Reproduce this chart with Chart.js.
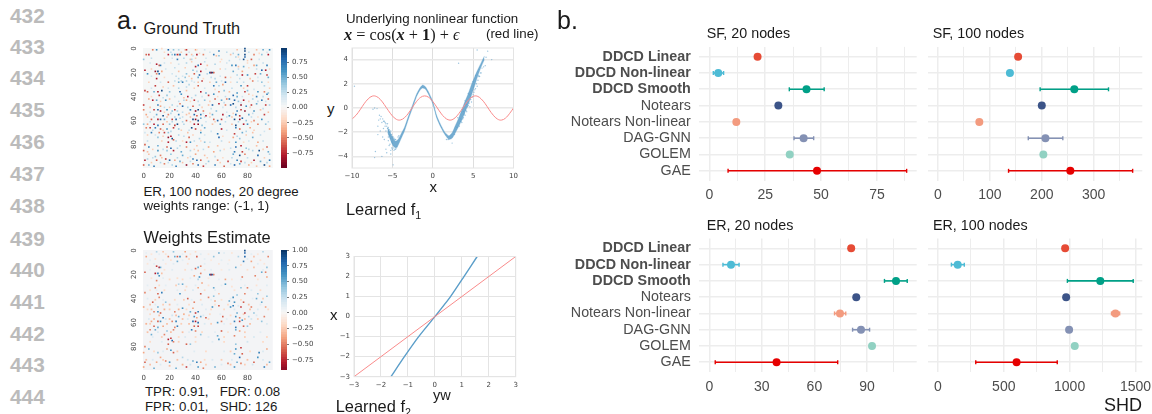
<!DOCTYPE html>
<html><head><meta charset="utf-8">
<script src="https://cdn.jsdelivr.net/npm/chart.js@4"></script>
<style>
html,body{margin:0;padding:0;background:#fff;width:1152px;height:414px;overflow:hidden}
#stage{position:relative;width:1152px;height:414px;filter:blur(0.4px);background:#fff}
canvas{position:absolute}
.t{position:absolute;white-space:pre;line-height:normal;color:#1a1a1a;font-family:"Liberation Sans",sans-serif}
.n{color:#bbb;font-weight:bold}
sub{font-size:65%;line-height:0}
</style></head><body><div id="stage"></div>
<script>
// ---------- panel b data ----------
const methods=["DDCD Linear","DDCD Non-linear","DDCD Smooth","Notears","Notears Non-linear","DAG-GNN","GOLEM","GAE"];
const methodColors=["#E64B35","#4DBBD5","#00A087","#3C5488","#F39B7F","#8491B4","#91D1C2","#E60000"];
const sf20Mean=[21.6,4,43.5,30.9,12.1,42.2,36,48.2];
const sf20Low=[null,1.8,35.8,null,null,37.9,null,8.4];
const sf20High=[null,6.4,51.4,null,null,46.7,null,88.3];
const sf100Mean=[154.4,138.6,262.6,200,79.7,207,203,255];
const sf100Low=[null,null,196.8,null,null,174,null,136];
const sf100High=[null,null,328.5,null,null,240.5,null,375];
const er20Mean=[81,12.4,106.6,83.9,74.6,86.6,92.9,38.4];
const er20Low=[null,7.8,100,null,71.5,81.8,null,3.4];
const er20High=[null,17,113,null,77.9,91.5,null,73.3];
const er100Mean=[966,150,1233,973.6,1348,996,1039,597];
const er100Low=[null,102,983,null,1318,null,null,287];
const er100High=[null,200,1483,null,1380,null,null,906];
const sf20Ticks=[0,25,50,75];
const sf100Ticks=[0,100,200,300];
const er20Ticks=[0,30,60,90];
const er100Ticks=[0,500,1000,1500];
const sf20Minor=[12.5,37.5,62.5,87.5];
const sf100Minor=[50,150,250,350];
const er20Minor=[15,45,75,105];
const er100Minor=[250,750,1250];

// ---------- panel a, curves ----------
const redCurveX=[-10,-9.5,-9,-8.5,-8,-7.5,-7,-6.5,-6,-5.5,-5,-4.5,-4,-3.5,-3,-2.5,-2,-1.5,-1,-0.5,0,0.5,1,1.5,2,2.5,3,3.5,4,4.5,5,5.5,6,6.5,7,7.5,8,8.5,9,9.5,10];
const redCurveY=[-0.91,-0.6,-0.15,0.35,0.75,0.98,0.96,0.71,0.28,-0.21,-0.65,-0.94,-0.99,-0.8,-0.42,0.07,0.54,0.88,1,0.88,0.54,0.07,-0.42,-0.8,-0.99,-0.94,-0.65,-0.21,0.28,0.71,0.96,0.98,0.75,0.35,-0.15,-0.6,-0.91,-1,-0.84,-0.47,0];
const bandX=[-5.6,-5.2,-4.9,-4.6,-4.3,-4,-3.5,-3,-2.5,-2,-1.6,-1.25,-0.9,-0.5,0,0.5,1,1.5,2,2.4,2.8,3.2,3.6,4,4.4,4.8,5.2,5.6,6,6.4];
const bandLow=[-2,-2.7,-3.15,-3.3,-3.1,-2.65,-1.9,-0.9,0,0.95,1.45,1.65,1.55,1.1,0.35,-0.85,-1.6,-2.2,-2.6,-2.5,-2.05,-1.55,-1,-0.35,0.3,1.05,1.85,2.7,3.4,4];
const bandHigh=[-1.6,-2.1,-2.5,-2.75,-2.6,-2.25,-1.6,-0.65,0.25,1.15,1.65,1.9,1.75,1.3,0.55,-0.65,-1.4,-2,-2.3,-2.05,-1.45,-0.85,-0.15,0.55,1.2,1.95,2.6,3.2,3.75,4.3];
const cloudX=[-9.7,-7.4,-7.2,-7.1,-6.9,-6.8,-6.7,-6.6,-6.5,-6.4,-6.3,-6.3,-6.2,-6.1,-6.1,-6,-6,-5.9,-5.9,-5.8,-5.8,-5.7,-5.7,-5.6,-5.6,-5.5,-5.5,-5.5,-5.4,-5.4,-5.4,-5.3,-5.3,-5.3,-5.2,-5.2,-5.2,-5.1,-5.1,-5.1,-5,-5,-5,-4.9,-4.9,-4.8,-4.8,-4.7,-4.7,-4.6,-4.6,-4.5,-4.4,-4.3,-4.2,-4.9,-5.5,-6.2,-6.5,-6.8,-7.2,-5.8,-5.2,3,3.1,3.3,3.4,3.5,3.6,3.7,3.8,3.8,3.9,4,4,4.1,4.2,4.2,4.3,4.4,4.4,4.5,4.6,4.6,4.7,4.8,4.9,5,5,5.1,5.2,5.3,5.3,5.4,5.5,5.6,5.7,5.8,5.9,6,6.1,6.3,6.5,6.6,6.8,7.3,5.5,5.7,3.2,2.7,2.4,1.7,1.9];
const cloudY=[1.8,-0.1,0,-3.6,-0.05,-2.2,-1,-0.6,-0.9,-0.7,-1.2,-4,-0.9,-1.1,-1.7,-1.1,-2.6,-1.5,-1.2,-1.3,-1.9,-1.5,-3.7,-1.7,-1.3,-1.9,-1.6,-2.4,-1.8,-2.2,-3.1,-2,-2.3,-3,-1.9,-2.5,-3.5,-2.2,-2.8,-3.3,-2.4,-2.9,-3.4,-2.4,-3.3,-2.5,-3.5,-2.6,-3.4,-3.4,-2.6,-3.3,-3.2,-2.4,-2.3,-4.7,-2.7,-2.4,-1.9,-1.5,-4.1,-3.4,-3.8,-1.6,-0.8,-1.5,-0.9,-1.1,-1.2,-0.9,-0.8,-0.3,-0.5,-0.6,0.6,-0.2,-0.3,0.3,0.1,0.2,1.2,0.4,0.1,1.1,0.7,0.5,0.9,1.1,2.2,1.3,1.5,1.6,2.7,2,1.8,2.3,2.6,2.6,2.9,2.9,3.3,3.4,3.5,4.2,4.7,4,4.8,2.7,3.7,-2.2,-2.9,-2.6,-2.6,-2.7];
const learnedX=[-1.63,-1.13,-0.6,0,0.58,1.08,1.57];
const learnedY=[-3,-2,-1,0,1,2,3];
const identityLine=[-3,3];
const fnXTicks=[-10,-5,0,5,10];
const fnYTicks=[-4,-2,0,2,4];
const learnedTicks=[-3,-2,-1,0,1,2,3];
const heatTicks=[0,20,40,60,80];
const cbTicksA=[-0.75,-0.5,-0.25,0,0.25,0.5,0.75];
const cbTicksB=[-0.75,-0.5,-0.25,0,0.25,0.5,0.75,1];
const rdBuStops=["#67001f","#b2182b","#d6604d","#f4a582","#fddbc7","#f7f7f7","#d1e5f0","#92c5de","#4393c3","#2166ac","#053061"];

// ---------- heatmap cells: column, row, weight ----------
const truthCells=[[7,1,-.5],[10,1,.6],[14,0,-.2],[19,1,.8],[23,1,.4],[27,1,.3],[32,1,-.3],[33,1,-.7],[40,1,-.4],[41,1,-.2],[47,1,.2],[58,2,.7],[72,1,-.3],[78,0,.9],[78,2,.9],[87,1,-.3],[92,1,.5],[97,1,.6],
[2,5,-.6],[4,5,-.7],[19,5,-.8],[22,5,.4],[24,5,.7],[26,5,-.8],[27,5,-.4],[28,5,.8],[33,5,-.7],[37,5,-.3],[38,6,.2],[41,5,-.8],[46,5,-.5],[54,5,.7],[56,6,-.3],[58,6,.4],[67,5,-.3],[73,5,.5],[78,5,.9],[78,7,.8],[85,5,-.5],[91,5,.4],[96,5,-.8],
[0,9,.4],[26,9,.7],[36,9,-.3],[37,9,.3],[74,9,.2],[77,9,.9],[83,9,-.6],[71,7,.3],[73,7,-.2],
[10,13,-.8],[12,14,-.6],[13,14,.7],[27,13,.2],[42,14,.7],[44,13,-.8],[40,15,-.8],[49,14,-.3],[55,13,.3],[68,14,.6],[71,14,.7],[73,15,-.3],[77,15,.5],[85,14,-.4],[87,14,.5],[95,14,.7],
[1,18,-.8],[9,19,-.9],[11,19,.9],[14,19,-.4],[27,19,-.3],[38,18,.4],[41,19,.3],[44,19,-.8],[51,20,.8],[52,20,-.9],[53,20,.9],[54,20,-.6],[69,19,.5],[76,19,-.4],[91,18,.8],[94,18,-.8],
[3,21,.6],[10,21,-.5],[12,21,.8],[22,21,.2],[33,21,.4],[39,21,-.6],[43,22,.8],[49,21,.3],[72,22,.3],[76,22,-.8],[80,22,.6],[86,21,-.7],[90,21,.5],[95,22,-.7],
[10,25,-.8],[27,25,.3],[32,24,.4],[37,25,-.3],[42,24,.5],[46,25,-.2],[55,25,.3],[63,24,-.6],[82,25,-.3],[96,24,.5],
[19,28,-.6],[27,28,.5],[29,27,.3],[30,28,.7],[37,27,.2],[42,28,-.3],[45,27,-.7],[56,28,.5],[63,28,.8],[72,28,.3],[84,27,-.5],[91,28,.4],
[9,31,-.7],[23,31,-.3],[35,30,.3],[42,31,-.6],[54,31,.7],[58,31,.3],[61,30,-.4],[75,31,.6],[80,31,-.7],[93,31,.3],
[1,35,-.7],[3,36,-.6],[8,36,.5],[11,36,-.8],[14,35,.9],[20,36,.4],[28,36,.8],[33,35,-.3],[44,36,-.8],[48,37,.5],[58,36,-.5],[62,35,.4],[66,36,-.3],[72,37,.6],[78,36,-.7],[80,35,.4],[88,36,.6],[93,36,-.5],[96,37,.4],
[12,39,-.7],[18,39,.4],[29,38,.6],[34,40,-.8],[40,39,.3],[50,39,-.7],[54,38,.6],[69,39,.8],[72,40,.5],[81,38,-.3],[87,40,.7],[95,38,.7],
[4,42,-.4],[7,43,-.8],[10,43,.5],[17,43,.6],[20,42,-.3],[33,43,-.4],[39,43,-.7],[47,43,.4],[55,42,-.6],[60,43,.5],[64,42,-.5],[66,42,.7],[70,43,.8],[73,44,.4],[77,43,-.8],[84,42,.3],[91,43,.7],[96,42,-.6],
[0,47,-.7],[11,47,.7],[13,48,-.4],[22,47,.3],[28,46,-.5],[30,48,.8],[38,48,-.6],[43,47,.3],[50,47,-.3],[53,47,.8],[58,46,-.8],[63,47,-.5],[67,47,.8],[69,46,.9],[75,47,-.9],[79,48,.6],[83,47,-.7],[87,46,.5],[94,47,-.7],[97,47,.3],
[0,51,-.5],[8,51,-.7],[11,51,.8],[13,52,-.8],[18,51,.6],[22,52,.4],[24,51,-.7],[26,52,.3],[36,51,.7],[40,52,-.9],[42,51,.9],[46,52,-.5],[56,52,.4],[72,52,.7],[75,51,-.7],[78,52,-.9],[85,52,.6],[90,51,-.3],
[2,55,-.4],[10,55,.5],[15,56,.9],[19,55,-.5],[27,55,.7],[33,55,-.3],[39,55,.8],[41,56,-.6],[44,55,.7],[48,56,-.8],[53,55,.5],[61,55,-.8],[66,56,.6],[71,55,.8],[74,56,-.7],[81,55,.5],[93,55,-.7],
[6,59,-.6],[11,59,-.8],[13,59,.8],[16,59,.5],[22,59,-.7],[25,59,.8],[28,58,.3],[33,60,-.6],[38,59,.9],[40,59,-.9],[42,60,.9],[44,58,.5],[54,59,-.6],[57,60,.8],[60,59,-.7],[70,59,.9],[74,59,-.9],[76,58,.8],[79,60,.4],[85,60,-.5],[91,59,.6],
[0,63,.4],[3,63,-.4],[8,63,-.8],[11,64,.7],[15,63,-.6],[20,63,.4],[24,64,-.7],[26,63,.9],[31,63,.3],[39,63,-.8],[42,63,-.9],[45,64,.4],[53,63,-.3],[59,63,.5],[68,63,-.3],[71,64,.9],[77,63,-.8],[80,63,.6],[88,63,-.5],[94,63,.4],
[2,66,-.5],[5,66,-.7],[9,66,.7],[13,67,-.6],[18,67,.6],[23,66,-.7],[27,67,.4],[37,66,.9],[40,67,-.7],[47,66,.5],[60,67,-.8],[71,66,.7],[74,67,-.6],[82,66,-.4],[97,67,-.4],
[1,70,.2],[6,70,.7],[12,70,-.5],[16,70,-.7],[19,70,.4],[34,70,-.3],[44,70,.6],[57,71,.7],[70,71,-.7],[76,70,.5],[84,70,-.3],
[19,74,-.9],[21,73,-.8],[23,76,-.6],[22,75,.9],[11,74,.4],[35,74,-.6],[43,75,.3],[58,74,.8],[69,74,-.4],[74,75,.4],[84,74,.5],
[19,78,-.8],[33,78,-.8],[36,78,.6],[47,78,.4],[51,78,.2],[71,78,.6],[77,78,-.2],[88,78,-.4],
[1,80,-.6],[4,82,.7],[11,81,.5],[18,82,-.6],[21,83,.8],[28,81,.3],[33,82,-.5],[41,81,-.3],[50,82,-.4],[57,81,-.3],[71,82,.8],[75,81,-.8],[79,83,.4],[87,81,-.3],[95,82,-.6],
[0,85,-.6],[3,86,-.3],[11,85,.6],[18,85,.4],[23,85,-.8],[29,86,.5],[36,85,.3],[42,85,-.3],[54,86,-.4],[59,85,.3],[70,86,.7],[76,86,-.7],[84,85,.3],[89,85,.9],[96,86,.5],
[4,88,-.3],[9,90,.4],[13,89,-.5],[21,88,.4],[30,89,.5],[40,88,-.4],[47,89,-.3],[69,88,.5],[74,89,.9],[78,88,-.5],[88,89,.8],[97,88,.3],
[1,93,-.8],[3,92,.3],[10,93,-.6],[17,92,-.7],[20,93,.8],[24,93,-.4],[28,94,.5],[38,92,.7],[41,93,.8],[44,93,-.6],[50,94,.4],[57,93,-.5],[65,94,-.7],[72,93,.7],[75,94,-.7],[85,93,-.8],[90,94,.5],[97,93,.7],
[0,97,-.6],[4,97,.5],[8,98,.7],[16,96,-.5],[22,97,.3],[25,98,.7],[33,97,-.9],[38,96,-.5],[42,97,.8],[46,98,-.7],[55,97,.7],[62,98,-.6],[70,97,.8],[74,96,.5],[81,97,-.4],[87,98,-.3],[93,97,.9],[97,98,-.4]];

const truthPale=[[16,3,-.2],[21,3,.25],[29,3,-.25],[35,3,.2],[43,4,-.2],[51,3,.2],[64,3,.25],[69,4,.3],[81,3,.25],[89,4,-.2],[95,3,.2],
[6,8,.25],[16,8,-.25],[22,8,.2],[31,8,.3],[40,8,-.25],[48,8,.2],[60,9,-.2],[66,10,.25],[80,10,-.25],[89,9,.2],
[5,12,.2],[16,12,.2],[21,12,-.2],[33,12,.3],[37,11,-.25],[47,11,.25],[59,11,-.2],[64,12,.2],[80,12,-.2],[92,12,.25],
[6,17,-.25],[17,17,.2],[24,16,.25],[32,16,-.25],[48,17,.2],[59,17,-.25],[63,17,.2],[73,17,.25],[81,16,-.2],[87,17,.25],[97,17,-.2],
[6,23,.2],[16,24,-.2],[25,23,.25],[30,23,.2],[35,23,-.25],[52,24,.25],[59,23,.2],[67,24,-.2],[74,25,.25],[88,24,.2],
[4,28,-.25],[13,28,.2],[24,27,.25],[33,27,.3],[39,28,.2],[51,28,-.25],[60,27,.2],[67,28,-.2],[77,28,.25],[88,27,.2],[96,28,-.2],
[6,33,.2],[15,32,-.25],[19,33,.2],[27,33,.3],[33,32,.25],[39,33,-.25],[47,33,.2],[55,34,-.2],[68,33,.25],[77,33,-.25],[85,34,.2],[97,33,-.25],
[6,40,-.2],[15,41,.25],[24,40,.2],[31,41,-.3],[37,41,.25],[45,40,.2],[57,40,-.2],[63,40,.25],[76,40,.2],[84,39,-.2],[92,40,.25],
[13,44,-.25],[27,44,.25],[31,43,.3],[36,44,-.2],[42,44,.25],[51,44,-.25],[62,45,.25],[75,45,.2],[81,44,-.25],[88,44,.25],[94,44,.2],
[5,49,-.3],[16,49,.25],[20,49,-.25],[26,48,.25],[34,49,.3],[45,49,-.25],[52,50,.25],[61,49,.2],[71,49,.3],[82,49,-.25],[92,50,.25],
[5,53,.25],[16,53,-.25],[21,54,.3],[30,53,.25],[35,54,-.3],[46,54,.2],[51,54,-.25],[64,53,.2],[69,54,-.25],[84,54,.25],[96,53,-.3],
[3,57,-.3],[8,57,.25],[18,57,-.3],[24,57,.3],[30,57,.25],[36,57,-.3],[47,57,.25],[51,57,-.25],[64,57,.25],[68,57,-.3],[83,57,.25],[88,57,-.2],
[5,61,.25],[18,61,-.3],[22,61,.3],[30,61,.3],[36,61,-.25],[48,61,.2],[55,61,-.25],[63,61,.25],[73,61,.3],[83,61,-.25],[96,61,.25],
[7,68,.25],[15,68,-.25],[21,69,.3],[29,68,-.25],[35,68,.25],[44,68,-.25],[52,69,.2],[64,68,.2],[79,69,.3],[85,68,-.25],[93,69,.2],
[3,72,-.25],[9,72,.2],[15,73,-.25],[27,72,.3],[31,73,.25],[38,72,-.25],[47,72,.2],[61,73,-.2],[72,73,.3],[79,72,-.25],[90,72,.25],
[3,77,.25],[14,77,-.25],[25,77,.3],[30,77,-.2],[39,77,.25],[44,77,-.2],[60,77,.25],[66,78,-.25],[81,77,.2],[92,77,.25],
[7,84,-.25],[15,84,.25],[26,83,.3],[39,84,-.25],[46,84,.25],[62,84,-.2],[67,83,.25],[81,84,.3],[92,84,-.25],
[7,91,.25],[14,91,-.3],[26,91,.3],[34,91,-.25],[36,90,.25],[49,91,-.25],[55,90,.25],[61,91,-.2],[68,91,.3],[80,91,.25],[93,91,-.25],
[6,95,-.25],[13,95,.3],[19,95,.25],[30,95,-.3],[36,94,.25],[48,96,.25],[59,95,-.25],[67,96,.2],[78,95,.25],[83,95,-.25],[95,95,.3]];

const estimateCells=[[10,1,.3],[15,1,-.3],[23,1,.4],[32,1,-.4],[40,1,-.2],[58,2,.5],[78,0,.9],[78,2,.8],[92,1,.3],
[2,5,-.4],[19,5,-.5],[24,5,.5],[26,5,-.6],[28,5,.6],[33,5,-.5],[41,5,-.6],[54,5,.4],[73,5,.3],[78,5,.8],[85,5,-.3],[96,5,-.5],
[26,9,.5],[77,9,.7],[83,9,-.4],[10,13,-.7],[12,14,-.8],[13,14,.5],[42,14,.5],[44,13,-.5],[40,15,-.6],[71,14,.5],[85,14,-.3],[95,14,.4],
[1,18,-.6],[9,19,-.8],[11,19,.7],[14,19,-.3],[44,19,-.5],[51,20,.7],[52,20,-.9],[53,20,.8],[54,20,-.5],[91,18,.5],[94,18,-.5],
[12,21,.6],[39,21,-.4],[43,22,.6],[76,22,-.5],[86,21,-.5],[95,22,-.4],[10,25,-.5],[42,24,.3],[63,24,-.4],[27,28,.3],[30,28,.5],[63,28,.6],[45,27,-.4],
[9,31,-.5],[42,31,-.4],[54,31,.5],[75,31,.4],[80,31,-.5],[1,35,-.5],[11,36,-.6],[14,35,.7],[28,36,.6],[44,36,-.6],[58,36,-.3],[72,37,.4],[78,36,-.5],[88,36,.4],
[12,39,-.5],[34,40,-.6],[50,39,-.5],[54,38,.4],[69,39,.6],[87,40,.5],[95,38,.4],[7,43,-.6],[17,43,.4],[39,43,-.5],[55,42,-.4],[66,42,.5],[70,43,.6],[77,43,-.6],[91,43,.5],
[0,47,-.4],[11,47,.5],[30,48,.6],[38,48,-.4],[53,47,.6],[58,46,-.6],[67,47,.6],[69,46,.7],[75,47,-.7],[83,47,-.5],[94,47,-.4],
[8,51,-.5],[11,51,.6],[13,52,-.6],[24,51,-.5],[36,51,.5],[40,52,-.7],[42,51,.7],[72,52,.5],[78,52,-.7],[85,52,.4],
[15,56,.7],[27,55,.5],[39,55,.6],[41,56,-.4],[44,55,.5],[48,56,-.6],[61,55,-.6],[71,55,.6],[74,56,-.5],[81,55,.3],[93,55,-.5],
[6,59,-.4],[11,59,-.6],[13,59,.6],[22,59,-.5],[25,59,.7],[38,59,.8],[40,59,-.8],[42,60,.8],[57,60,.6],[60,59,-.5],[70,59,.7],[74,59,-.7],[76,58,.6],[91,59,.4],
[8,63,-.6],[11,64,.5],[15,63,-.4],[24,64,-.5],[26,63,.7],[39,63,-.6],[42,63,-.7],[71,64,.7],[77,63,-.6],[80,63,.4],
[5,66,-.5],[9,66,.5],[18,67,.4],[23,66,-.5],[37,66,.7],[40,67,-.5],[60,67,-.6],[71,66,.5],[74,67,-.4],
[6,70,.5],[16,70,-.5],[44,70,.4],[57,71,.5],[70,71,-.5],[19,74,-.8],[21,73,-.7],[22,75,.8],[23,76,-.5],[58,74,.6],
[19,78,-.6],[33,78,-.6],[36,78,.4],[71,78,.4],[1,80,-.5],[4,82,.5],[21,83,.6],[18,82,-.4],[71,82,.6],[75,81,-.7],[95,82,-.4],
[0,85,-.4],[23,85,-.6],[11,85,.4],[70,86,.5],[76,86,-.6],[89,85,.7],[13,89,-.4],[30,89,.3],[74,89,.8],[88,89,.6],
[1,93,-.6],[10,93,-.4],[17,92,-.5],[20,93,.6],[38,92,.5],[41,93,.7],[44,93,-.4],[65,94,-.5],[72,93,.5],[75,94,-.5],[85,93,-.6],[97,93,.5],
[0,97,-.4],[8,98,.5],[25,98,.5],[33,97,-.7],[42,97,.6],[46,98,-.5],[55,97,.5],[70,97,.6],[93,97,.7]];

const estimateFaint=[[2,2,.08],[6,3,-.12],[12,3,.1],[17,3,-.15],[30,3,.1],[36,3,-.12],[44,3,.12],[50,3,-.1],[62,2,.1],[68,2,-.12],[83,3,.1],[88,3,-.12],
[5,8,.1],[9,7,-.15],[15,8,.12],[21,8,-.15],[30,8,.1],[35,7,-.2],[47,7,.1],[52,8,-.1],[60,8,.1],[66,8,-.1],[80,7,.12],[90,8,-.15],
[3,11,-.12],[8,11,.1],[17,11,-.1],[23,11,.12],[34,11,-.15],[47,11,.1],[58,11,-.12],[65,11,.08],[75,12,-.15],[88,11,.12],[93,11,-.12],
[5,16,.08],[16,16,-.15],[22,16,.12],[32,16,-.18],[37,16,.15],[47,16,-.15],[52,16,.1],[60,16,-.1],[66,16,.12],[80,16,-.15],[92,16,.1],
[6,23,-.15],[15,23,.1],[20,24,-.2],[26,23,-.18],[30,24,-.2],[36,23,.1],[50,23,-.12],[58,24,.1],[68,24,-.12],[75,24,.1],[88,24,-.15],
[3,29,.1],[12,29,-.2],[17,29,.1],[25,29,-.25],[33,30,-.2],[40,29,.12],[50,29,-.15],[60,29,.1],[68,30,-.15],[78,29,.1],[87,29,-.15],[95,29,.12],
[5,33,-.15],[10,33,.1],[16,33,-.2],[26,33,.12],[32,33,-.2],[38,33,.15],[47,33,-.18],[55,33,.1],[70,33,-.15],[83,33,.12],[90,33,-.2],
[3,40,.12],[9,41,-.25],[15,41,.1],[24,41,-.2],[31,41,-.25],[37,41,.1],[44,41,-.2],[52,41,.1],[60,41,-.15],[67,40,.12],[75,41,-.2],[84,40,.1],[92,40,-.25],
[5,45,-.3],[9,45,.12],[15,45,-.25],[20,45,-.3],[26,45,.12],[35,45,-.2],[45,45,.15],[55,45,-.15],[65,45,-.2],[73,46,.15],[81,45,-.3],[90,45,.12],
[3,49,-.2],[6,49,-.3],[16,49,-.35],[20,49,-.25],[27,49,-.35],[33,49,-.2],[48,49,.12],[52,49,-.2],[62,49,-.2],[70,49,.15],[82,49,-.3],[88,49,.15],[96,49,-.2],
[5,53,-.2],[12,54,-.3],[22,54,.2],[25,54,-.3],[31,53,-.35],[35,54,-.25],[46,54,.15],[51,53,-.2],[59,53,.1],[67,54,-.2],[77,53,-.25],[87,54,.15],
[4,57,.15],[8,57,-.3],[17,57,.2],[20,57,-.3],[30,57,-.3],[34,57,.15],[50,57,-.2],[64,57,.1],[78,57,-.3],[83,57,.2],[88,57,-.25],
[2,61,-.35],[5,61,-.25],[18,61,-.3],[29,61,-.25],[35,61,-.3],[47,61,.15],[52,61,-.25],[62,61,.1],[67,61,-.2],[82,61,-.3],[95,61,.15],
[3,68,-.3],[11,68,.15],[21,68,-.3],[30,68,-.3],[35,68,.12],[45,68,-.2],[55,68,.1],[65,68,-.15],[78,68,-.25],[90,68,.12],
[7,72,.12],[14,72,-.25],[27,72,-.2],[32,72,.15],[40,72,-.2],[50,72,.12],[62,72,-.2],[78,72,-.25],[85,72,.15],[95,72,-.2],
[5,76,-.2],[14,76,.12],[27,76,-.25],[40,76,-.2],[53,76,.12],[62,76,-.2],[80,76,.2],[92,76,-.2],
[8,84,-.2],[15,84,.12],[26,84,-.25],[39,84,.12],[48,84,-.2],[62,84,.12],[67,84,-.25],[82,84,-.2],[92,84,.15],
[2,91,-.3],[7,91,.15],[15,91,-.25],[26,91,-.3],[34,91,.2],[47,91,-.2],[53,91,.15],[60,91,-.25],[68,91,.15],[80,91,-.3],[92,91,.15],
[5,95,-.3],[13,95,.15],[20,96,-.3],[30,95,-.35],[36,95,.2],[48,95,-.25],[60,95,.15],[67,95,-.3],[78,95,-.25],[84,95,.2],[95,95,-.3]];

// ---------- helpers ----------
const stage=document.getElementById('stage');
const SANS='"Liberation Sans",sans-serif', DEJA='"DejaVu Sans",sans-serif';
const TICK7={family:DEJA,size:7};
const minus=v=>String(v).replace('-','\u2212');
function rdBu(v){
  const p=Math.max(0,Math.min(0.9999,(v+1)/2))*10,i=Math.floor(p),f=p-i;
  const h=s=>[1,3,5].map(k=>parseInt(s.substr(k,2),16));
  const a=h(rdBuStops[i]),b=h(rdBuStops[i+1]);
  return 'rgb('+a.map((c,k)=>Math.round(c+(b[k]-c)*f)).join(',')+')';
}
function text(s,x,base,size,opt={}){
  const e=document.createElement('div');e.className='t '+(opt.cls||'');
  const fam=opt.family||SANS;
  const asc=opt.asc||0.905;
  e.style.cssText+=`left:${x}px;top:${base-asc*size}px;font-size:${size}px;font-family:${fam};`+(opt.color?`color:${opt.color};`:'')+(opt.css||'');
  e.innerHTML=s;stage.appendChild(e);return e;
}
const bgFrame={id:'bgFrame',
  beforeDatasetsDraw(c,a,o){ if(!o.fill)return; const A=c.chartArea;c.ctx.save();c.ctx.fillStyle=o.fill;c.ctx.fillRect(A.left,A.top,A.right-A.left,A.bottom-A.top);c.ctx.restore();},
  afterDraw(c,a,o){ if(!o.stroke)return; const A=c.chartArea;c.ctx.save();c.ctx.strokeStyle=o.stroke;c.ctx.lineWidth=1;c.ctx.strokeRect(A.left,A.top,A.right-A.left,A.bottom-A.top);c.ctx.restore();}
};
function place(rect,m,cfg,xId='x',yId='y',yRight=false){
  const cl=Math.floor(rect.l-m.l),ct=Math.floor(rect.t-m.t);
  const cw=Math.ceil(rect.r+m.r)-cl,ch=Math.ceil(rect.b+m.b)-ct;
  const cv=document.createElement('canvas');cv.width=cw;cv.height=ch;
  cv.style.cssText=`left:${cl}px;top:${ct}px;width:${cw}px;height:${ch}px`;
  stage.appendChild(cv);
  const o=cfg.options=cfg.options||{};
  o.responsive=false;o.animation=false;o.devicePixelRatio=1;
  o.layout={padding:{top:rect.t-ct,left:yRight?rect.l-cl:0,right:yRight?0:cl+cw-rect.r,bottom:0}};
  o.plugins=Object.assign({legend:{display:false},tooltip:{enabled:false}},o.plugins||{});
  const X=o.scales[xId],Y=o.scales[yId];
  X.afterFit=a=>{a.height=ct+ch-rect.b;a.paddingLeft=0;a.paddingRight=0;};
  Y.afterFit=a=>{a.width=yRight?cl+cw-rect.r:rect.l-cl;a.paddingTop=0;a.paddingBottom=0;};
  cfg.plugins=(cfg.plugins||[]).concat([bgFrame]);
  return new Chart(cv.getContext('2d'),cfg);
}
const setTicks=list=>a=>{a.ticks=list.map(v=>({value:v}));};

// ---------- heatmaps ----------
function heatmap(rect,series){
  place(rect,{l:16,t:10,r:1,b:14},{type:'scatter',
    data:{datasets:series.map((s,i)=>({data:s.cells.map(c=>({x:c[0]+.5,y:c[1]+.5})),
      backgroundColor:s.cells.map(c=>rdBu(c[2])),borderWidth:0,pointStyle:'rect',pointRadius:s.r,pointHoverRadius:s.r,order:series.length-i}))},
    options:{clip:false,plugins:{bgFrame:{fill:series[0].bg}},
      scales:{
       x:{type:'linear',min:0,max:100,afterBuildTicks:setTicks(heatTicks.map(v=>v+.5)),grid:{display:false,drawTicks:false},border:{display:false},
          ticks:{font:TICK7,color:'#444',padding:4,autoSkip:false,maxRotation:0,callback:v=>Math.floor(v)}},
       y:{type:'linear',min:0,max:100,reverse:true,afterBuildTicks:setTicks(heatTicks.map(v=>v+.5)),grid:{display:false,drawTicks:false},border:{display:false},
          ticks:{font:TICK7,color:'#444',padding:4,autoSkip:false,minRotation:90,maxRotation:90,crossAlign:'center',callback:v=>Math.floor(v)}}
      }}});
}
heatmap({l:143,t:48,r:273,b:168},[{cells:truthPale,bg:'#f5f7f7',r:1.1},{cells:truthCells,r:1.15}]);
heatmap({l:143,t:250,r:273,b:370},[{cells:estimateFaint,bg:'#f3f4f6',r:1.25},{cells:estimateCells,r:1.15}]);

// ---------- colourbars ----------
function colorbar(rect,lo,hi,ticks){
  const n=48,ds=[];
  for(let i=0;i<n;i++){const a=lo+(hi-lo)*i/n,b=lo+(hi-lo)*(i+1)/n;
    const norm=Math.max(-1,Math.min(1,(a+b)/2/Math.max(-lo,hi)));
    ds.push({data:[[a,b+0.004]],backgroundColor:rdBu(norm),borderWidth:0,categoryPercentage:1,barPercentage:1,grouped:false});}
  place(rect,{l:0,t:10,r:26,b:10},{type:'bar',data:{labels:[''],datasets:ds},options:{
    scales:{x:{display:true,grid:{display:false,drawTicks:false},border:{display:false},ticks:{display:false}},
      y:{type:'linear',position:'right',min:lo,max:hi,afterBuildTicks:setTicks(ticks),
        grid:{color:'rgba(0,0,0,0)',tickColor:'#777',tickLength:2,drawTicks:true},border:{display:false},
        ticks:{font:TICK7,color:'#444',padding:3,autoSkip:false,callback:v=>minus(v.toFixed(2))}}}}},'x','y',true);
}
colorbar({l:281,t:48,r:287,b:168},-0.997,0.985,cbTicksA);
colorbar({l:281,t:250,r:287,b:370},-0.91,1,cbTicksB);

// ---------- function plots ----------
const GRID='#e4e4e4';
const pts=(xs,ys)=>xs.map((x,i)=>({x,y:ys[i]}));
const BLUE='#5b9ec9';
place({l:352,t:48,r:513.5,b:168},{l:16,t:10,r:8,b:14},{type:'scatter',
  data:{datasets:[
    {data:pts(redCurveX,redCurveY),showLine:true,borderColor:'#f98b8b',borderWidth:1,pointRadius:0,tension:.4,order:0},
    {data:pts(bandX,bandLow),showLine:true,borderColor:'rgba(91,158,201,.6)',borderWidth:.5,pointRadius:0,tension:.2,fill:'+1',backgroundColor:'rgba(91,158,201,.85)',order:2},
    {data:pts(bandX,bandHigh),showLine:true,borderColor:'rgba(91,158,201,.6)',borderWidth:.5,pointRadius:0,tension:.2,order:2},
    {data:pts(cloudX,cloudY),pointRadius:.7,backgroundColor:'rgba(91,158,201,.6)',borderWidth:0,order:3}
  ]},
  options:{plugins:{bgFrame:{stroke:GRID}},scales:{
    x:{type:'linear',min:-10,max:10,afterBuildTicks:setTicks(fnXTicks),grid:{color:'#dedede',drawTicks:false},border:{display:false},
       ticks:{font:TICK7,color:'#444',padding:4,autoSkip:false,maxRotation:0,callback:minus}},
    y:{type:'linear',min:-4.96,max:4.96,afterBuildTicks:setTicks(fnYTicks),grid:{color:'#e8e8e8',lineWidth:1.4,drawTicks:false},border:{display:false},
       ticks:{font:TICK7,color:'#444',padding:4,autoSkip:false,callback:minus}}}}});
place({l:354,t:256.5,r:515.7,b:376.7},{l:16,t:10,r:8,b:14},{type:'scatter',
  data:{datasets:[
    {data:identityLine.map(v=>({x:v,y:v})),showLine:true,borderColor:'#f98b8b',borderWidth:1,pointRadius:0},
    {data:pts(learnedX,learnedY),showLine:true,borderColor:BLUE,borderWidth:1.4,pointRadius:0,tension:.2}
  ]},
  options:{plugins:{bgFrame:{stroke:GRID}},scales:{
    x:{type:'linear',min:-3,max:3,afterBuildTicks:setTicks(learnedTicks),grid:{color:GRID,drawTicks:false},border:{display:false},
       ticks:{font:TICK7,color:'#444',padding:4,autoSkip:false,maxRotation:0,callback:minus}},
    y:{type:'linear',min:-3,max:3,afterBuildTicks:setTicks(learnedTicks),grid:{color:GRID,drawTicks:false},border:{display:false},
       ticks:{font:TICK7,color:'#444',padding:4,autoSkip:false,callback:minus}}}}});

// ---------- panel b ----------
function forest(rect,xmin,xmax,major,minor,mean,low,high,showLabels){
  const ds=[];
  methods.forEach((m,i)=>{ if(low[i]===null)return;
    ds.push({label:m+' range',data:[{x:low[i],y:i},{x:high[i],y:i}],showLine:true,borderColor:methodColors[i],borderWidth:1.6,
      pointStyle:'line',rotation:90,pointRadius:2,pointBorderWidth:1.4,pointBorderColor:methodColors[i],order:2});
  });
  ds.push({label:'mean',data:mean.map((v,i)=>({x:v,y:i})),pointRadius:4,pointHoverRadius:4,pointBackgroundColor:methodColors,pointBorderWidth:0,order:1});
  place(rect,{l:showLabels?170:2,t:12,r:8,b:24},{type:'scatter',data:{datasets:ds},options:{clip:false,scales:{
    x:{type:'linear',min:xmin,max:xmax,afterBuildTicks:setTicks(major.concat(minor)),
       grid:{color:'#ededed',lineWidth:c=>major.includes(c.tick.value)?1.5:1,drawTicks:false},border:{display:false},
       ticks:{font:{family:SANS,size:14},color:'#4d4d4d',padding:6.5,autoSkip:false,maxRotation:0,callback:v=>major.includes(v)?String(v):''}},
    y:{type:'linear',min:-.6,max:7.6,reverse:true,afterBuildTicks:setTicks(methods.map((_,i)=>i)),
       grid:{color:'#ededed',lineWidth:1.6,drawTicks:false},border:{display:false},
       ticks:{display:showLabels,padding:8.5,autoSkip:false,color:'#4d4d4d',
         font:c=>({family:SANS,size:14.3,weight:c.index<3?'bold':'normal'}),
         callback:v=>methods[v]}}
  }}});
}
const col1={l:699.3,r:916.7},col2={l:925.3,r:1142.3};
forest({...col1,t:46.9,b:180.6},-4.47,92.8,sf20Ticks,sf20Minor,sf20Mean,sf20Low,sf20High,true);
forest({...col2,t:46.9,b:180.6},-18.4,393.6,sf100Ticks,sf100Minor,sf100Mean,sf100Low,sf100High,false);
forest({...col1,t:238.6,b:372},-5.7,118.4,er20Ticks,er20Minor,er20Mean,er20Low,er20High,true);
forest({...col2,t:238.6,b:372},-72.6,1552,er100Ticks,er100Minor,er100Mean,er100Low,er100High,false);

// ---------- text ----------
const lineNos=["432","433","434","435","436","437","438","439","440","441","442","443","444"];
const lineBases=[22.7,53.5,85,117,149,181,213,245.5,277,309,340.5,372,404];
lineNos.forEach((s,i)=>text(s,10,lineBases[i],20.8,{cls:'n'}));
text('a.',117,28.3,25);text('b.',557,28.3,25);
text('Ground Truth',143.5,34.3,16.4);
text('ER, 100 nodes, 20 degree',143.5,195.7,13.3);
text('weights range: (-1, 1)',143.5,210,13.3);
text('Weights Estimate',143.5,243.3,16.4);
text('TPR: 0.91,   FDR: 0.08',145,395.7,13.3);
text('FPR: 0.01,   SHD: 126',145,410.7,13.3);
text('Underlying nonlinear function',346,23.3,13.3);
text('<b><i>x</i></b> = cos(<b><i>x</i></b> + <b>1</b>) + <i>ϵ</i>',344,40,16.3,{family:'"Liberation Serif",serif',asc:.891});
text('(red line)',486,37.7,13.3);
text('y',327,113.5,15);text('x',429.5,191.7,15);
text('Learned f<sub>1</sub>',346,215,16.4);
text('x',330,320,15);text('yw',433,400,14.5);
text('Learned f<sub>2</sub>',335.7,411.7,16.4);
text('SF, 20 nodes',706.7,38.3,14.3);text('SF, 100 nodes',932.7,38.3,14.3);
text('ER, 20 nodes',706.7,230,14.3);text('ER, 100 nodes',933,230,14.3);
text('SHD',1104,411,18);
</script></body></html>
